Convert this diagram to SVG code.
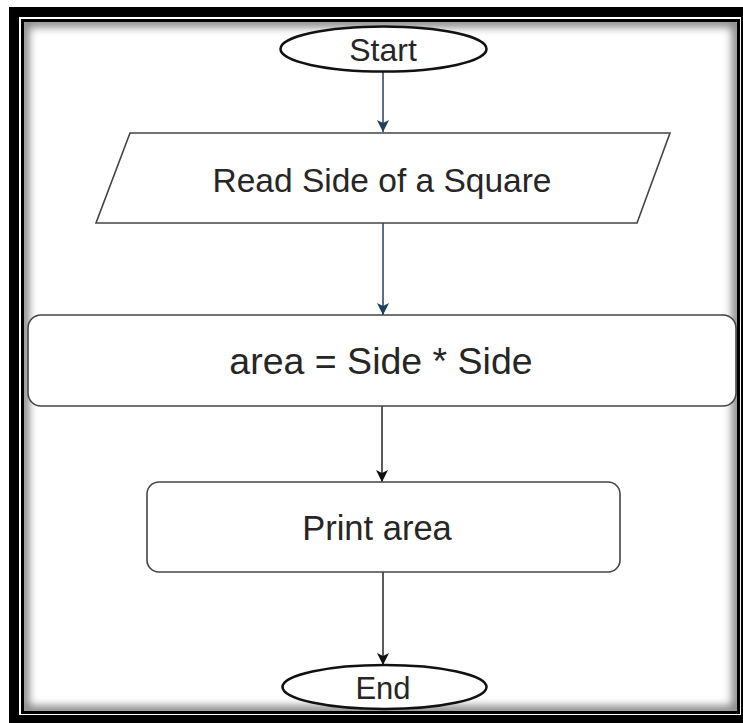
<svg xmlns="http://www.w3.org/2000/svg" width="743" height="723" viewBox="0 0 743 723">
  <style>
    .term { fill: #fff; stroke: #111; stroke-width: 2.5; }
    .box { fill: #fff; stroke: #444; stroke-width: 1.6; }
    .label { font-family: "Liberation Sans", Arial, sans-serif; fill: #262626; text-anchor: middle; dominant-baseline: central; }
    .flow-blue { stroke: #2c4a68; stroke-width: 1.6; fill: none; }
    .flow-dark { stroke: #333; stroke-width: 1.6; fill: none; }
  </style>
  <defs>
    <marker id="headBlue" markerUnits="userSpaceOnUse" markerWidth="14" markerHeight="14" refX="12" refY="6" orient="auto">
      <path d="M0,0 L12,6 L0,12 L3,6 Z" fill="#1f3f5f"/>
    </marker>
    <marker id="headDark" markerUnits="userSpaceOnUse" markerWidth="14" markerHeight="14" refX="12" refY="6" orient="auto">
      <path d="M0,0 L12,6 L0,12 L3,6 Z" fill="#111"/>
    </marker>
    <filter id="soft" x="-5%" y="-5%" width="110%" height="110%">
      <feGaussianBlur stdDeviation="4"/>
    </filter>
    <clipPath id="innerArea">
      <rect x="24" y="22" width="713" height="689"/>
    </clipPath>
  </defs>

  <!-- page frame: heavy outer border, white gap, thin inner border, inner shade -->
  <g id="frame">
    <rect x="9" y="7" width="740" height="720" fill="#000"/>
    <rect x="19" y="17" width="722" height="698" fill="#fff"/>
    <rect x="22.5" y="20.5" width="716" height="692" fill="none" stroke="#000" stroke-width="3"/>
    <g clip-path="url(#innerArea)">
      <rect x="24" y="22" width="713" height="689" fill="none" stroke="#808080" stroke-width="10" filter="url(#soft)"/>
    </g>
  </g>

  <g id="connectors">
    <line class="flow-blue" x1="383" y1="72" x2="383" y2="132" marker-end="url(#headBlue)"/>
    <line class="flow-blue" x1="383" y1="223" x2="383" y2="315" marker-end="url(#headBlue)"/>
    <line class="flow-dark" x1="382" y1="406" x2="382" y2="482" marker-end="url(#headDark)"/>
    <line class="flow-dark" x1="383" y1="572" x2="383" y2="665" marker-end="url(#headDark)"/>
  </g>

  <g id="start">
    <ellipse class="term" cx="383.5" cy="49" rx="103" ry="22.5"/>
    <text class="label" x="383" y="50" font-size="32">Start</text>
  </g>

  <g id="read-side">
    <polygon class="box" points="130,133 670,133 637,223 96,223"/>
    <text class="label" x="382" y="180" font-size="33.5">Read Side of a Square</text>
  </g>

  <g id="compute-area">
    <rect class="box" x="28" y="315" width="708" height="91" rx="13"/>
    <text class="label" x="381" y="361" font-size="37.5">area = Side * Side</text>
  </g>

  <g id="print-area">
    <rect class="box" x="147" y="482" width="473" height="90" rx="12"/>
    <text class="label" x="377" y="528" font-size="34.5">Print area</text>
  </g>

  <g id="end">
    <ellipse class="term" cx="384.5" cy="687" rx="102" ry="22"/>
    <text class="label" x="383" y="688" font-size="31">End</text>
  </g>
</svg>
